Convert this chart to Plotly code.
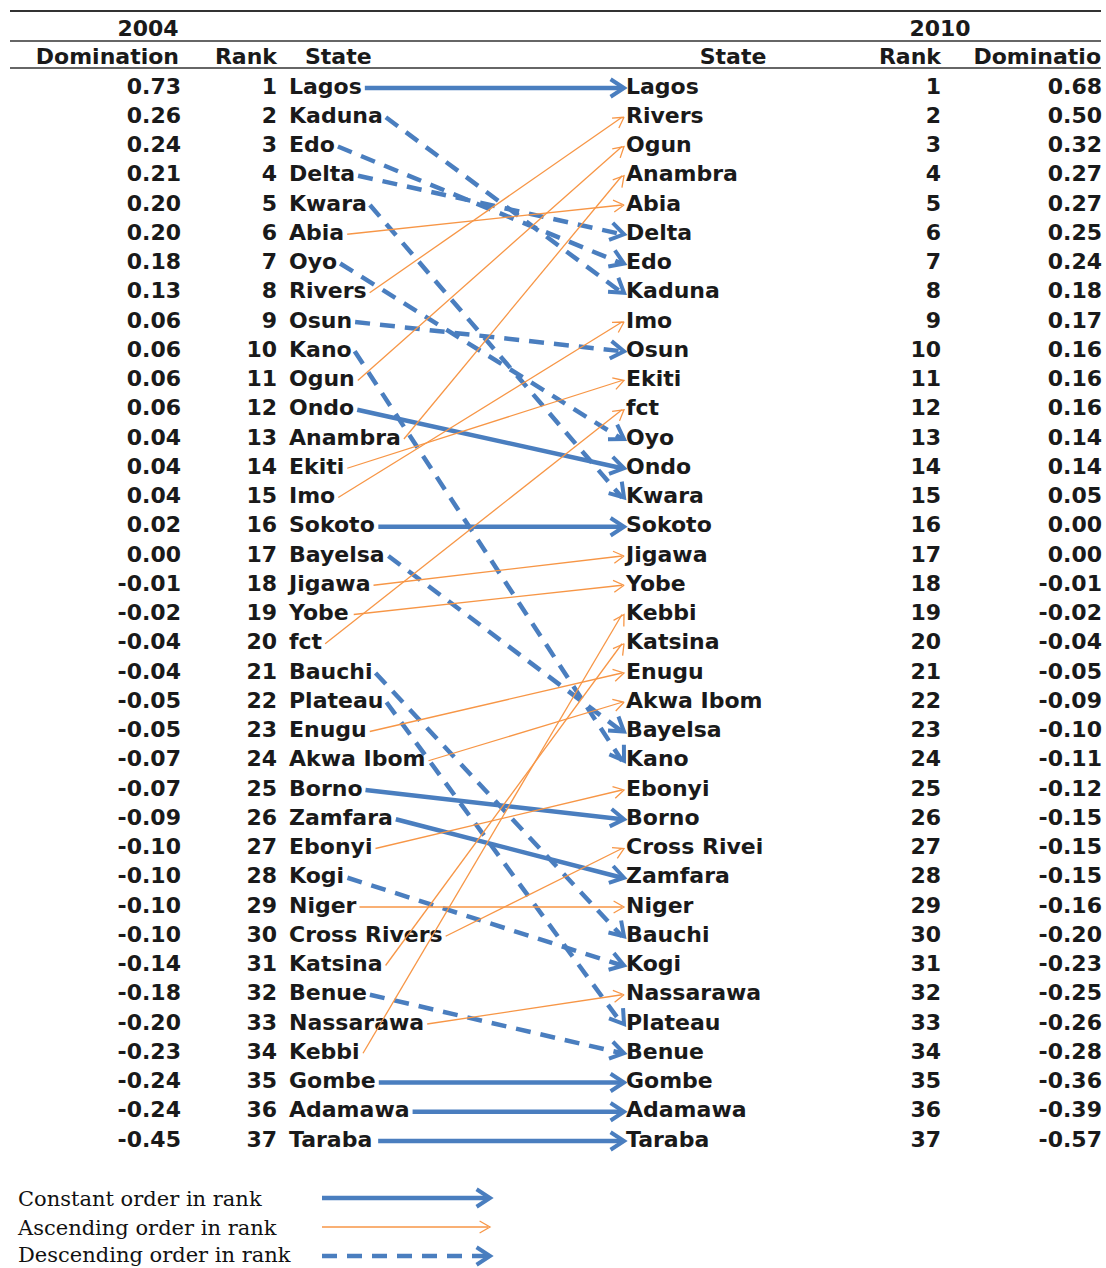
import math
import plotly.graph_objects as go

# ---------------- data ----------------
states_2004 = ["Lagos", "Kaduna", "Edo", "Delta", "Kwara", "Abia", "Oyo", "Rivers", "Osun", "Kano",
               "Ogun", "Ondo", "Anambra", "Ekiti", "Imo", "Sokoto", "Bayelsa", "Jigawa", "Yobe", "fct",
               "Bauchi", "Plateau", "Enugu", "Akwa Ibom", "Borno", "Zamfara", "Ebonyi", "Kogi", "Niger",
               "Cross Rivers", "Katsina", "Benue", "Nassarawa", "Kebbi", "Gombe", "Adamawa", "Taraba"]
dom_2004 = ["0.73", "0.26", "0.24", "0.21", "0.20", "0.20", "0.18", "0.13", "0.06", "0.06",
            "0.06", "0.06", "0.04", "0.04", "0.04", "0.02", "0.00", "-0.01", "-0.02", "-0.04",
            "-0.04", "-0.05", "-0.05", "-0.07", "-0.07", "-0.09", "-0.10", "-0.10", "-0.10",
            "-0.10", "-0.14", "-0.18", "-0.20", "-0.23", "-0.24", "-0.24", "-0.45"]

states_2010 = ["Lagos", "Rivers", "Ogun", "Anambra", "Abia", "Delta", "Edo", "Kaduna", "Imo", "Osun",
               "Ekiti", "fct", "Oyo", "Ondo", "Kwara", "Sokoto", "Jigawa", "Yobe", "Kebbi", "Katsina",
               "Enugu", "Akwa Ibom", "Bayelsa", "Kano", "Ebonyi", "Borno", "Cross Rivers", "Zamfara",
               "Niger", "Bauchi", "Kogi", "Nassarawa", "Plateau", "Benue", "Gombe", "Adamawa", "Taraba"]
labels_2010 = [s if s != "Cross Rivers" else "Cross Rivei" for s in states_2010]
dom_2010 = ["0.68", "0.50", "0.32", "0.27", "0.27", "0.25", "0.24", "0.18", "0.17", "0.16",
            "0.16", "0.16", "0.14", "0.14", "0.05", "0.00", "0.00", "-0.01", "-0.02", "-0.04",
            "-0.05", "-0.09", "-0.10", "-0.11", "-0.12", "-0.15", "-0.15", "-0.15", "-0.16", "-0.20",
            "-0.23", "-0.25", "-0.26", "-0.28", "-0.36", "-0.39", "-0.57"]

constant_states = ["Lagos", "Ondo", "Sokoto", "Borno", "Zamfara", "Gombe", "Adamawa", "Taraba"]
ascending_states = ["Abia", "Rivers", "Ogun", "Anambra", "Ekiti", "Imo", "fct", "Jigawa", "Yobe",
                    "Enugu", "Akwa Ibom", "Ebonyi", "Niger", "Cross Rivers", "Katsina", "Nassarawa", "Kebbi"]
descending_states = ["Kaduna", "Edo", "Delta", "Kwara", "Oyo", "Osun", "Kano", "Bayelsa",
                     "Bauchi", "Plateau", "Kogi", "Benue"]

legend_labels = ["Constant order in rank", "Ascending order in rank", "Descending order in rank"]

# ---------------- layout helpers ----------------
W, H = 1106, 1268
ROW0_PX, ROW_PX = 88.0, 29.25
FONT = "DejaVu Sans"
FS = 22
BLUE = "#4A7EBF"
ORANGE = "#F79646"


def py(p):
    """pixel row -> rank-axis value"""
    return 1 + (p - ROW0_PX) / ROW_PX


def ypx(v):
    return ROW0_PX + (v - 1) * ROW_PX


WIDTHS = {' ': .348, 'a': .675, 'b': .716, 'c': .593, 'd': .716, 'e': .678, 'f': .435, 'g': .716,
          'h': .712, 'i': .343, 'j': .343, 'k': .665, 'l': .343, 'm': 1.042, 'n': .712, 'o': .687,
          'p': .716, 'q': .716, 'r': .493, 's': .595, 't': .478, 'u': .712, 'v': .652, 'w': .924,
          'x': .645, 'y': .652, 'z': .582, 'A': .774, 'B': .762, 'C': .734, 'D': .830, 'E': .683,
          'F': .683, 'G': .821, 'H': .837, 'I': .372, 'J': .372, 'K': .775, 'L': .637, 'M': .995,
          'N': .837, 'O': .850, 'P': .733, 'R': .770, 'S': .720, 'T': .682, 'Y': .724, 'Z': .725}


def text_w(s):
    return sum(WIDTHS.get(c, .65) for c in s) * FS


n = len(states_2004)
rank_2004 = list(range(1, n + 1))
rank_2010 = list(range(1, n + 1))
pos_2010 = {s: r for s, r in zip(states_2010, rank_2010)}

X_DOM_L, X_RANK_L, X_STATE_L = 181, 277, 289
X_STATE_R, X_RANK_R, X_DOM_R = 626, 941, 1102
X_ARROW_END = 624

fig = go.Figure()

tf = dict(family=FONT, size=FS, color="#1a1a1a", weight="bold")

# left table
fig.add_trace(go.Scatter(x=[X_DOM_L] * n, y=rank_2004, text=dom_2004, mode="text",
                         textposition="middle left", textfont=tf, hoverinfo="skip"))
fig.add_trace(go.Scatter(x=[X_RANK_L] * n, y=rank_2004, text=[str(r) for r in rank_2004], mode="text",
                         textposition="middle left", textfont=tf, hoverinfo="skip"))
fig.add_trace(go.Scatter(x=[X_STATE_L] * n, y=rank_2004, text=states_2004, mode="text",
                         textposition="middle right", textfont=tf, hoverinfo="skip"))
# right table
fig.add_trace(go.Scatter(x=[X_STATE_R] * n, y=rank_2010, text=labels_2010, mode="text",
                         textposition="middle right", textfont=tf, hoverinfo="skip"))
fig.add_trace(go.Scatter(x=[X_RANK_R] * n, y=rank_2010, text=[str(r) for r in rank_2010], mode="text",
                         textposition="middle left", textfont=tf, hoverinfo="skip"))
fig.add_trace(go.Scatter(x=[X_DOM_R] * n, y=rank_2010, text=dom_2010, mode="text",
                         textposition="middle left", textfont=tf, hoverinfo="skip"))

styles = {
    "constant": dict(color=BLUE, width=4.5, dash="solid", head=16, hw=4, ang=33),
    "ascending": dict(color=ORANGE, width=1.3, dash="solid", head=12, hw=1.3, ang=30),
    "descending": dict(color=BLUE, width=4.5, dash="15px,10px", head=16, hw=4, ang=33),
}


def kind(s):
    if s in constant_states:
        return "constant"
    if s in ascending_states:
        return "ascending"
    return "descending"


def arrow(x0, y0, x1, y1, st):
    # shaft
    fig.add_trace(go.Scatter(
        x=[x0, x1 - 2], y=[y0, y1], mode="lines",
        line=dict(color=st["color"], width=st["width"], dash=st["dash"]),
        hoverinfo="skip"))
    # chevron head computed from the shaft direction (pixel space)
    dxp, dyp = x1 - x0, ypx(y1) - ypx(y0)
    L = math.hypot(dxp, dyp)
    ux, uy = dxp / L, dyp / L
    a = math.radians(st["ang"])
    wings = []
    for sgn in (1, -1):
        rx = ux * math.cos(sgn * a) - uy * math.sin(sgn * a)
        ry = ux * math.sin(sgn * a) + uy * math.cos(sgn * a)
        wings.append((x1 - st["head"] * rx, ypx(y1) - st["head"] * ry))
    hx = [wings[0][0], x1, wings[1][0]]
    hy = [py(wings[0][1]), y1, py(wings[1][1])]
    fig.add_trace(go.Scatter(x=hx, y=hy, mode="lines",
                             line=dict(color=st["color"], width=st["hw"]),
                             hoverinfo="skip"))


for s, r in zip(states_2004, rank_2004):
    st = styles[kind(s)]
    x0 = X_STATE_L + text_w(s) + 3
    arrow(x0, r, X_ARROW_END, pos_2010[s], st)

# headers
hf = dict(family=FONT, size=FS, color="#1a1a1a", weight="bold")
headers = [
    ("2004", 148, 30, "middle center"),
    ("Domination", 179, 58, "middle left"),
    ("Rank", X_RANK_L, 58, "middle left"),
    ("State", 305, 58, "middle right"),
    ("State", 733, 58, "middle center"),
    ("2010", 940, 30, "middle center"),
    ("Rank", X_RANK_R, 58, "middle left"),
    ("Dominatio", 1101, 58, "middle left"),
]
for t, x, p, pos in headers:
    fig.add_trace(go.Scatter(x=[x], y=[py(p)], text=[t], mode="text", textposition=pos,
                             textfont=hf, hoverinfo="skip"))

# rules
for p, w in [(11, 2.2), (41, 1.6), (68, 1.6)]:
    fig.add_shape(type="line", x0=10, x1=1101, y0=py(p), y1=py(p), xref="x", yref="y",
                  line=dict(color="#333333", width=w))

# legend
lf = dict(family="DejaVu Serif", size=21, color="#111111")
leg_arrow_px = [1198, 1227, 1256]
leg_text_px = [1201, 1230, 1257]
for lab, pa, pt, k in zip(legend_labels, leg_arrow_px, leg_text_px, ["constant", "ascending", "descending"]):
    fig.add_trace(go.Scatter(x=[18], y=[py(pt)], text=[lab], mode="text", textposition="middle right",
                             textfont=lf, hoverinfo="skip"))
    arrow(322, py(pa), 490, py(pa), styles[k])

fig.update_layout(
    width=W, height=H, margin=dict(l=0, r=0, t=0, b=0),
    paper_bgcolor="white", plot_bgcolor="white", showlegend=False,
    xaxis=dict(range=[0, W], visible=False, fixedrange=True),
    yaxis=dict(range=[py(H), py(0)], visible=False, fixedrange=True),
)

fig.write_html("out.html", config={"displayModeBar": False},
               post_script="document.body.style.margin='0';")
